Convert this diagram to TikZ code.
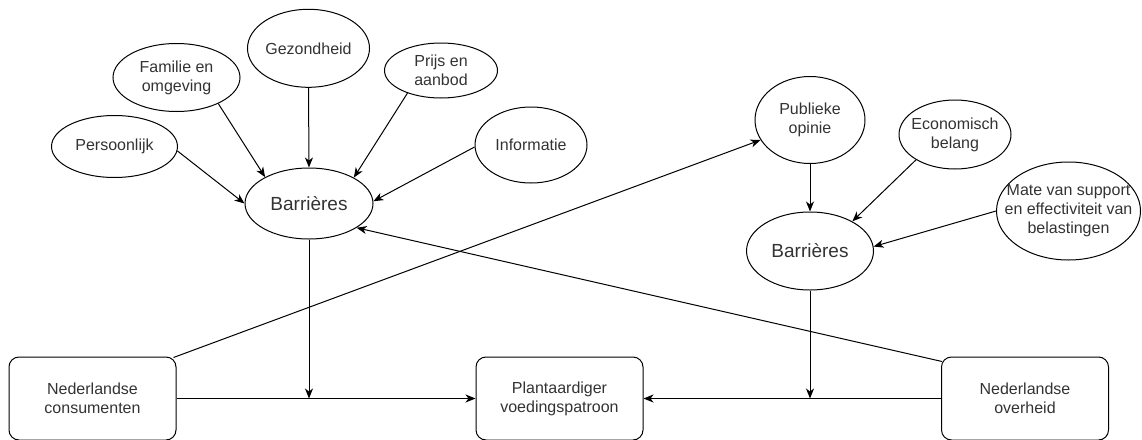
\documentclass[tikz,border=0pt]{standalone}
\usepackage{fontspec}
\setmainfont{Liberation Sans}
\usetikzlibrary{arrows.meta,shapes.geometric}
\begin{document}
\begin{tikzpicture}[x=1pt,y=-1pt,
  every node/.style={font=\fontsize{16}{19}\selectfont, text=black!80},
  ell/.style={ellipse, draw=black, line width=1pt, inner sep=0pt, align=center},
  big/.style={font=\fontsize{19}{22}\selectfont},
  box/.style={rectangle, rounded corners=10pt, draw=black, line width=1pt, minimum width=167pt, minimum height=83pt, align=center, inner sep=0pt},
  con/.style={draw=black, line width=1pt},
  arr/.style={con, -{Stealth[length=10pt,width=8pt,inset=3pt]}}
]
\useasboundingbox (0,0) rectangle (1142,439);

% left cluster
\node[ell, minimum width=126pt, minimum height=62pt] (pers) at (114.5,146.5) {Persoonlijk};
\node[ell, minimum width=127pt, minimum height=68pt] (fam) at (176.5,77.5) {Familie en\\omgeving};
\node[ell, minimum width=118pt, minimum height=78pt] (gez) at (308.5,48.3) {Gezondheid};
\node[ell, minimum width=113pt, minimum height=55pt] (prijs) at (441,70.5) {Prijs en\\aanbod};
\node[ell, minimum width=112pt, minimum height=76pt] (info) at (531,145) {Informatie};
\node[ell, big, minimum width=128pt, minimum height=71pt] (bar1) at (309,203.5) {Barrières};

% right cluster
\node[ell, minimum width=110pt, minimum height=87pt] (pub) at (810,120) {Publieke\\opinie};
\node[ell, minimum width=112pt, minimum height=69pt, inner xsep=-6pt] (eco) at (955,134.5) {Economisch\\belang};
\node[ell, minimum width=144pt, minimum height=98pt, inner xsep=-17pt] (mate) at (1068.5,211) {Mate van support\\en effectiviteit van\\belastingen};
\node[ell, big, minimum width=127pt, minimum height=78pt] (bar2) at (810,251) {Barrières};

% bottom boxes
\node[box] (cons) at (92.5,398.5) {Nederlandse\\consumenten};
\node[box] (plant) at (559.5,398.5) {Plantaardiger\\voedingspatroon};
\node[box] (over) at (1025,398.5) {Nederlandse\\overheid};

% connectors left
\draw[arr] (pers.-4) -- (bar1.west);
\draw[arr] (fam.-32) -- (bar1.149);
\draw[arr] (gez.south) -- (bar1.north);
\draw[arr] (prijs.214) -- (bar1.30);
\draw[arr] (info.182) -- (bar1.2);

% connectors right
\draw[arr] (pub.south) -- (bar2.north);
\draw[arr] (eco.213) -- (bar2.35);
\draw[arr] (mate.west) -- (bar2.4);

% cross connectors
\draw[arr] ([xshift=-3pt,yshift=-1pt]cons.north east) -- (pub.202);
\draw[arr] ([xshift=1pt,yshift=-5pt]over.north west) -- (bar1.-27.5);

% vertical moderators
\coordinate (j1) at (bar1.south |- cons.east);
\coordinate (j2) at (bar2.south |- over.west);
\draw[arr] (bar1.south) -- (j1);
\draw[arr] (bar2.south) -- (j2);

% main arrows
\draw[arr] (cons.east) -- (plant.west);
\draw[arr] (over.west) -- (plant.east);
\end{tikzpicture}
\end{document}
